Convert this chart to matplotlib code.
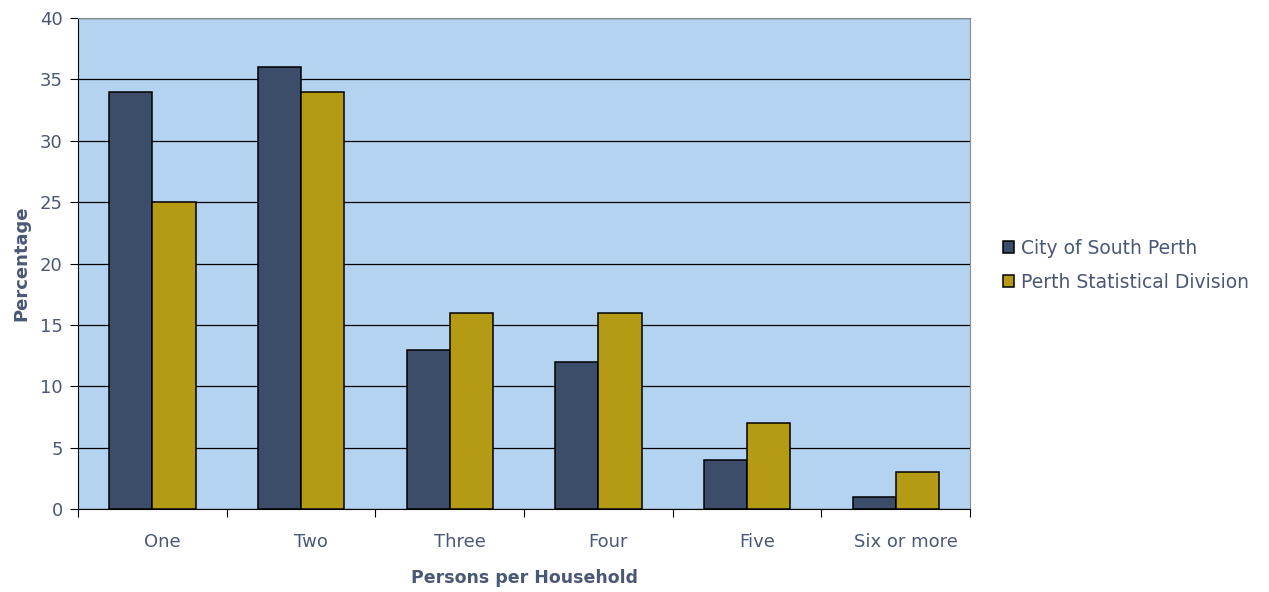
import matplotlib.pyplot as plt
import matplotlib.transforms as mtransforms
import numpy as np

plt.rcParams['font.family'] = ['DejaVu Sans']

categories = ["One", "Two", "Three", "Four", "Five", "Six or more"]
south_perth = [34, 36, 13, 12, 4, 1]
perth_sd = [25, 34, 16, 16, 7, 3]
series_names = ["City of South Perth", "Perth Statistical Division"]

txt = "#4A5875"
fig = plt.figure(figsize=(12.69, 5.92), dpi=100)
ax = fig.add_axes([0.0615, 0.140, 0.703, 0.8296])
ax.set_facecolor("#B4D3F0")

x = np.arange(len(categories))
w = 0.29
ax.bar(x - w / 2, south_perth, w, color="#3B4D69", edgecolor="black", linewidth=1.1,
       label=series_names[0], zorder=3)
ax.bar(x + w / 2, perth_sd, w, color="#B59A13", edgecolor="black", linewidth=1.1,
       label=series_names[1], zorder=3)

ax.set_xlim(-0.5, len(categories) - 0.5)
ax.set_ylim(0, 40)
ax.set_yticks(range(0, 41, 5))
ax.yaxis.grid(True, color="black", linewidth=0.9, zorder=1)
ax.set_axisbelow(True)

ax.set_xticks(np.arange(len(categories) + 1) - 0.5, minor=False)
ax.set_xticklabels([])
ax.set_xticks(x, minor=True)
ax.set_xticklabels(categories, minor=True)
ax.tick_params(axis="x", which="major", length=6, color="black")
ax.tick_params(axis="x", which="minor", length=0, pad=17, labelsize=13, labelcolor=txt)
ax.tick_params(axis="y", length=6, labelsize=13, labelcolor=txt, pad=5)

# Excel-style labels sit a bit right of the category centre
shift = mtransforms.ScaledTranslation(10 / 100, 0, fig.dpi_scale_trans)
for lab in ax.get_xticklabels(minor=True):
    lab.set_transform(lab.get_transform() + shift)

for s in ["top", "right"]:
    ax.spines[s].set_color("#8C8C8C")
for s in ["left", "bottom"]:
    ax.spines[s].set_color("black")

ax.set_xlabel("Persons per Household", fontsize=12.5, fontweight="bold", color=txt, labelpad=13)
ax.set_ylabel("Percentage", fontsize=13, fontweight="bold", color=txt, labelpad=7)

leg = fig.legend(loc="center left", bbox_to_anchor=(0.777, 0.552), frameon=False,
                 fontsize=13.5, handlelength=0.6, handleheight=0.6, handletextpad=0.35,
                 labelspacing=0.8)
for t in leg.get_texts():
    t.set_color(txt)

fig.savefig("out.png", dpi=100)
